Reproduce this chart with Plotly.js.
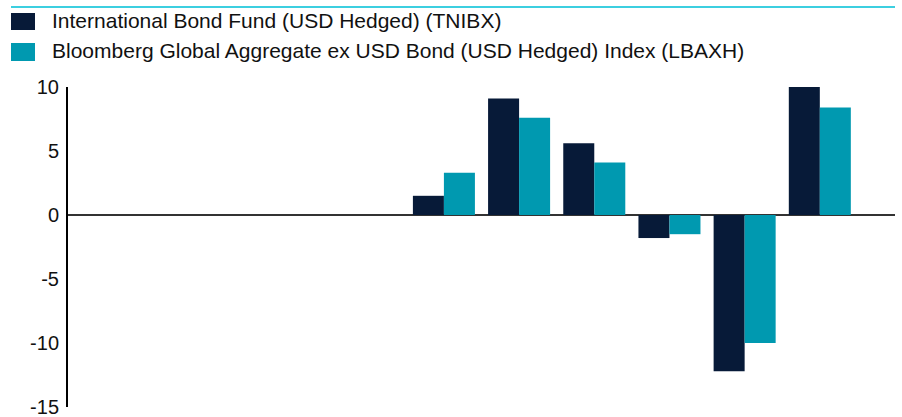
<!DOCTYPE html>
<html>
<head>
<meta charset="utf-8">
<script src="https://cdn.plot.ly/plotly-3.0.1.min.js"></script>
<style>html,body{margin:0;padding:0;background:#fff;}#chart{width:902px;height:417px;}</style>
</head>
<body>
<div id="chart"></div>
<script>
var years = ["2013","2014","2015","2016","2017","2018","2019","2020","2021","2022","2023"];
var fundName = "International Bond Fund (USD Hedged) (TNIBX)";
var indexName = "Bloomberg Global Aggregate ex USD Bond (USD Hedged) Index (LBAXH)";
var fundValues = [null,null,null,null,null,1.5,9.1,5.6,-1.8,-12.2,10.0];
var indexValues = [null,null,null,null,null,3.3,7.6,4.1,-1.5,-10.0,8.4];
var yTicks = [10,5,0,-5,-10,-15];

var navy = "#071a38", teal = "#0099b0";

var traces = [
  {type:"bar", name:fundName, x:years, y:fundValues, marker:{color:navy}, hoverinfo:"y"},
  {type:"bar", name:indexName, x:years, y:indexValues, marker:{color:teal}, hoverinfo:"y"}
];

var L = 68, T = 87, W = 827, H = 320;
function px(x){ return (x - L) / W; }
function py(y){ return (T + H - y) / H; }

var layout = {
  width:902, height:417,
  margin:{l:L, r:902-L-W, t:T, b:417-T-H},
  paper_bgcolor:"#fff", plot_bgcolor:"#fff",
  showlegend:false,
  barmode:"group", bargap:0.175, bargroupgap:0,
  font:{family:"Liberation Sans, Arial, sans-serif", size:20, color:"#111"},
  xaxis:{type:"category", range:[0,11], showticklabels:false, showgrid:false, zeroline:false, showline:false, ticks:""},
  yaxis:{range:[-15,10], tickvals:yTicks, ticktext:yTicks.map(String), showgrid:false,
         zeroline:true, zerolinecolor:"#333", zerolinewidth:2,
         showline:true, linecolor:"#000", linewidth:2, ticks:"", ticklabelstandoff:3,
         ticklabeloverflow:"allow",
         tickfont:{size:20, color:"#111"}},
  shapes:[
    {type:"line", xref:"paper", yref:"paper", x0:px(11), x1:px(895), y0:py(7), y1:py(7), line:{color:"#3ccfe0", width:2}},
    {type:"rect", xref:"paper", yref:"paper", x0:px(11), x1:px(35), y0:py(13), y1:py(30), fillcolor:navy, line:{width:0}},
    {type:"rect", xref:"paper", yref:"paper", x0:px(11), x1:px(35), y0:py(43), y1:py(61), fillcolor:teal, line:{width:0}}
  ],
  annotations:[
    {xref:"paper", yref:"paper", x:px(50), y:py(21), xanchor:"left", yanchor:"middle", text:fundName, showarrow:false, font:{size:21, color:"#111"}},
    {xref:"paper", yref:"paper", x:px(50), y:py(51), xanchor:"left", yanchor:"middle", text:indexName, showarrow:false, font:{size:21, color:"#111"}}
  ]
};

Plotly.newPlot("chart", traces, layout, {displayModeBar:false, staticPlot:true});
</script>
</body>
</html>
